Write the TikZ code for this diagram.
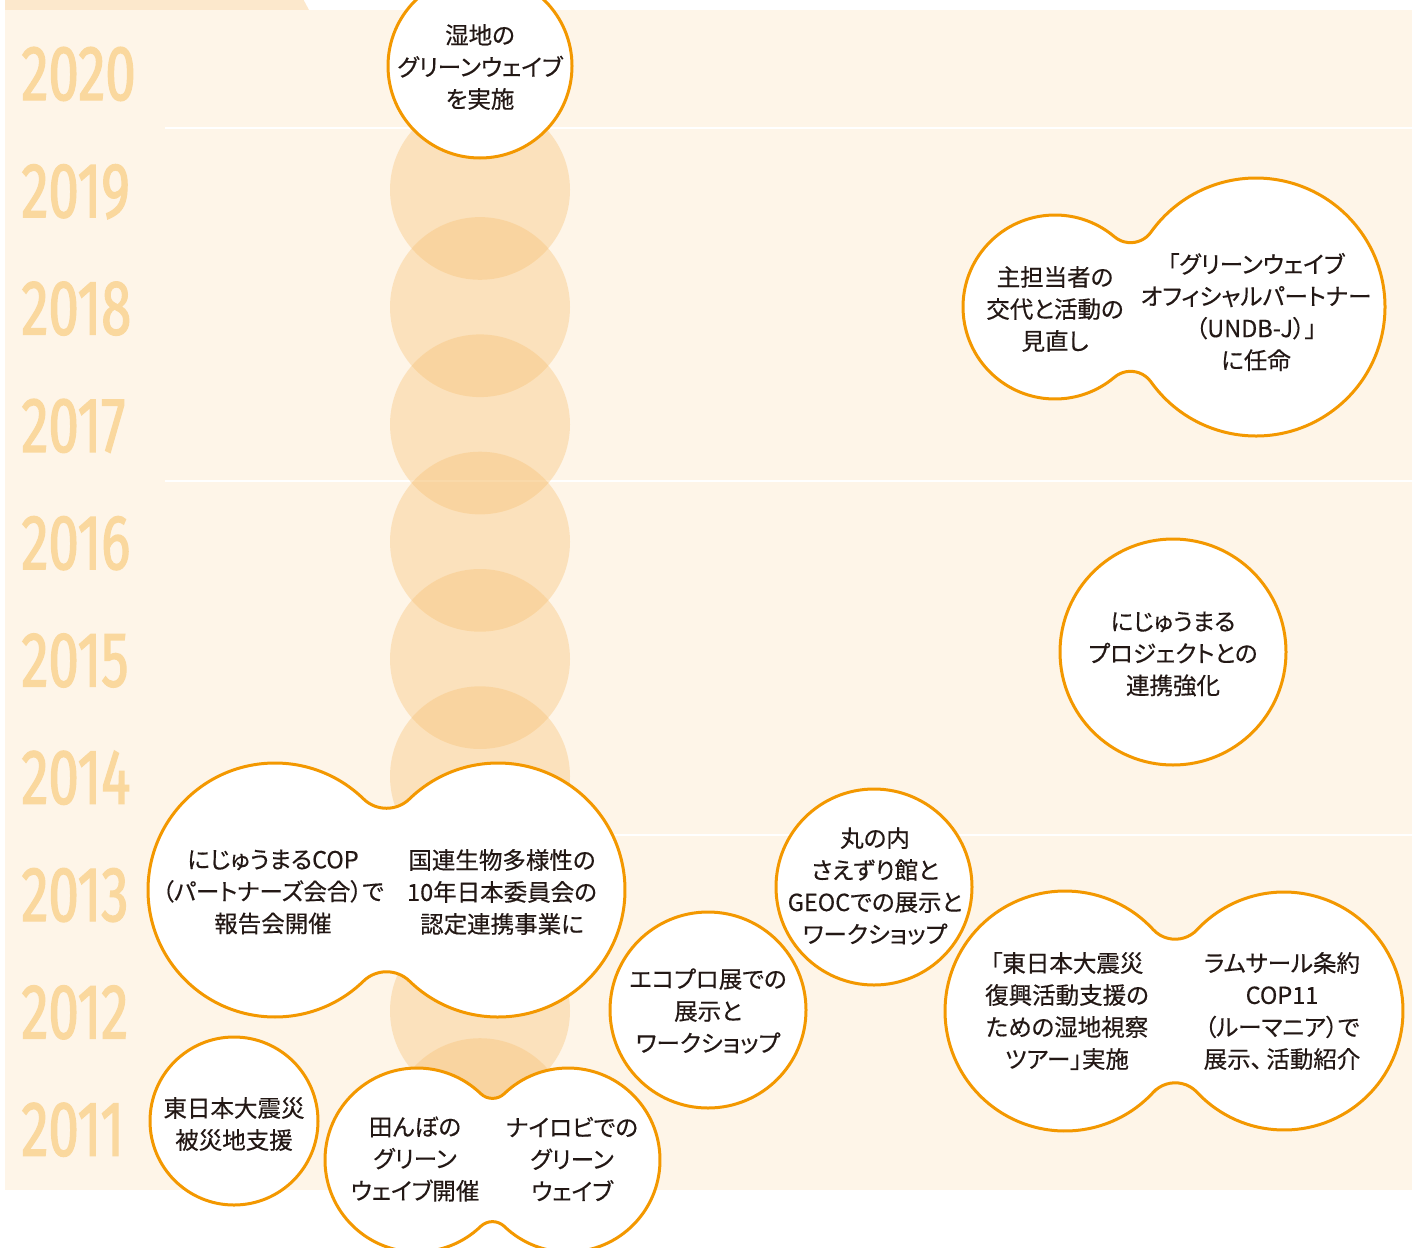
\documentclass[tikz,border=0pt]{standalone}
\usepackage{fontspec}
\newfontfamily\jpfont[RawFeature=+palt, FakeBold=0.4]{Noto Sans CJK JP}
\newfontfamily\yearfont[FakeStretch=0.70, FakeBold=1.6]{Fira Sans}
\definecolor{bgc}{HTML}{FEF5E8}
\definecolor{tabc}{HTML}{FCE8CC}
\definecolor{yearc}{HTML}{FAD89E}
\definecolor{colc}{HTML}{F8BE6C}
\definecolor{edgec}{HTML}{F39800}
\definecolor{txtc}{HTML}{231815}
\tikzset{
  bubble/.style={fill=white, draw=edgec, line width=1.5pt},
  txt/.style={font=\jpfont\fontsize{11.75pt}{16pt}\selectfont, text=txtc, align=center, inner sep=0pt},
  yr/.style={font=\yearfont\fontsize{39pt}{39pt}\selectfont, text=yearc, anchor=base west, inner sep=0pt},
  colcirc/.style={fill=colc, fill opacity=0.35},
  sepline/.style={draw=white, line width=1.2pt}
}
% #1 x1, #2 x2, #3 y, #4 r1, #5 r2, #6 fillet radius
\newcommand\dblbubble[6]{%
  \pgfmathsetmacro\bbd{(#2-#1)/100}%
  \pgfmathsetmacro\bbA{(#4+#6)/100}%
  \pgfmathsetmacro\bbB{(#5+#6)/100}%
  \pgfmathsetmacro\bba{(\bbd*\bbd+\bbA*\bbA-\bbB*\bbB)/(2*\bbd)}%
  \pgfmathsetmacro\bbh{sqrt(\bbA*\bbA-\bba*\bba)}%
  \pgfmathsetmacro\tA{atan2(\bbh,\bba)}%
  \pgfmathsetmacro\tB{atan2(\bbh,\bba-\bbd)}%
  \path[bubble] (#1,#3) ++(\tA:#4)
    arc[start angle=\tA+180, end angle=\tB+180, radius=#6]
    arc[start angle=\tB, end angle=-\tB, radius=#5]
    arc[start angle=180-\tB, end angle=180-\tA, radius=#6]
    arc[start angle=-\tA, end angle=\tA-360, radius=#4] -- cycle;%
}
\begin{document}
\begin{tikzpicture}[x=0.5pt,y=-0.5pt]
\useasboundingbox (0,0) rectangle (1417,1247);
\clip (0,0) rectangle (1417,1247);
% background
\fill[tabc] (5,-5) -- (301,-5) -- (309,10) -- (5,10) -- cycle;
\fill[bgc] (5,10) rectangle (1412,1190);
% separator lines
\coordinate (l1a) at (165,128); \coordinate (l1b) at (1412,128);
\coordinate (l2a) at (165,481); \coordinate (l2b) at (1412,481);
\coordinate (l3a) at (165,835); \coordinate (l3b) at (1412,835);
\draw[sepline] (l1a) -- (l1b);
\draw[sepline] (l2a) -- (l2b);
\draw[sepline] (l3a) -- (l3b);
% years
\foreach \yy/\k in {2020/0,2019/1,2018/2,2017/3,2016/4,2015/5,2014/6,2013/7,2012/8,2011/9}{
  \node[yr] (y\yy) at (21,{100+117.3*\k}) {\yy};
}
% column circles
\foreach \k in {1,...,9}{
  \fill[colcirc] (480,{72.5+117.3*\k}) circle[radius=90];
}
% bubbles
\path[bubble] (480,66) circle[radius=92];
\dblbubble{1055}{1256}{307}{92}{129}{25}
\path[bubble] (1173,652) circle[radius=113];
\dblbubble{275}{498}{890}{127}{127}{33}
\path[bubble] (874,887) circle[radius=98];
\path[bubble] (708,1010) circle[radius=98];
\dblbubble{1065}{1284}{1011}{120}{119}{30}
\path[bubble] (234,1121) circle[radius=84];
\dblbubble{417}{568}{1160}{92}{92}{17}
% texts
\node[txt] (t2020) at (480,67) {湿地の\\グリーンウェイブ\\を実施};
\node[txt] (t18a) at (1055,309) {主担当者の\\交代と活動の\\見直し};
\node[txt] (t18b) at (1256,312) {「グリーンウェイブ\\オフィシャルパートナー\\（UNDB-J）」\\に任命};
\node[txt] (t15) at (1173,654) {にじゅうまる\\プロジェクトとの\\連携強化};
\node[txt] (t13a) at (273,892) {にじゅうまるCOP\\（パートナーズ会合）で\\報告会開催};
\node[txt] (t13b) at (502,892) {国連生物多様性の\\10年日本委員会の\\認定連携事業に};
\node[txt] (t13c) at (875,886) {丸の内\\さえずり館と\\GEOCでの展示と\\ワークショップ};
\node[txt] (t12a) at (708,1011) {エコプロ展での\\展示と\\ワークショップ};
\node[txt] (t12b) at (1067,1011) {「東日本大震災\\復興活動支援の\\ための湿地視察\\ツアー」実施};
\node[txt] (t12c) at (1282,1011) {ラムサール条約\\COP11\\（ルーマニア）で\\展示、\,活動紹介};
\node[txt] (t11a) at (234,1124) {東日本大震災\\被災地支援};
\node[txt] (t11b) at (415,1159) {田んぼの\\グリーン\\ウェイブ開催};
\node[txt] (t11c) at (572,1159) {ナイロビでの\\グリーン\\ウェイブ};
\end{tikzpicture}
\end{document}
